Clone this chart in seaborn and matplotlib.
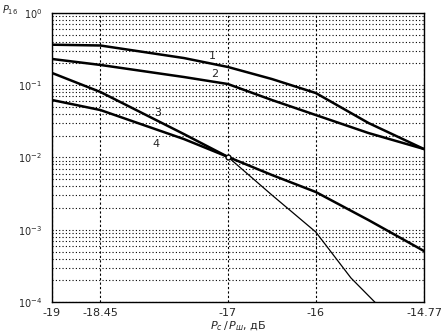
import matplotlib
matplotlib.use("Agg")
import matplotlib.pyplot as plt
import numpy as np
import seaborn as sns
from matplotlib.ticker import LogLocator, NullFormatter

# SNR values, dB
snr = [-19, -18.45, -17.5, -17, -16.5, -16, -15.4, -14.77]
p1 = [0.364, 0.355, 0.238, 0.179, 0.122, 0.078, 0.030, 0.0131]
p2 = [0.231, 0.191, 0.130, 0.104, 0.0625, 0.0387, 0.0218, 0.0131]
p4 = [0.0625, 0.0454, 0.018, 0.0102, 0.00573, 0.00333, 0.00136, 0.000508]

# curve 3 has its own x points (drops off the bottom)
snr3 = [-19, -18.45, -17.5, -17, -16.5, -16, -15.6, -15.33, -15.1]
p3 = [0.148, 0.0807, 0.0211, 0.0102, 0.00303, 0.00093, 0.000215, 0.0001, 0.000053]

xticks = [-19, -18.45, -17, -16, -14.77]
xtick_labels = ["-19", "-18.45", "-17", "-16", "-14.77"]
yticks = [1e0, 1e-1, 1e-2, 1e-3, 1e-4]
ytick_labels = ["$10^{0}$", "$10^{-1}$", "$10^{-2}$", "$10^{-3}$", "$10^{-4}$"]

sns.set_style("white")
plt.rcParams["font.family"] = ["DejaVu Sans"]

fig = plt.figure(figsize=(4.42, 3.34), dpi=100)
ax = fig.add_axes([0.1176, 0.0958, 0.8416, 0.8653])

thick = 1.8
sns.lineplot(x=snr, y=p1, ax=ax, color="black", linewidth=thick)
sns.lineplot(x=snr, y=p2, ax=ax, color="black", linewidth=thick)
sns.lineplot(x=snr, y=p4, ax=ax, color="black", linewidth=thick)
# curve 3: thick until it meets curve 4, thin after that
sns.lineplot(x=snr3[:4], y=p3[:4], ax=ax, color="black", linewidth=thick)
sns.lineplot(x=snr3[3:], y=p3[3:], ax=ax, color="black", linewidth=0.9)
ax.plot([snr[3]], [p4[3]], marker="o", markersize=3.5, color="black",
        markerfacecolor="white", markeredgewidth=1)

ax.set_yscale("log")
ax.set_xlim(-19, -14.77)
ax.set_ylim(1e-4, 1e0)

ax.yaxis.set_minor_locator(LogLocator(base=10, subs=np.arange(2, 10)))
ax.yaxis.set_minor_formatter(NullFormatter())
ax.grid(True, which="both", axis="y", color="black", linestyle=(0, (1, 2)), linewidth=0.8)
ax.grid(True, which="major", axis="x", color="black", linestyle=(0, (2, 2)), linewidth=0.8)

ax.set_xticks(xticks)
ax.set_xticklabels(xtick_labels)
ax.set_yticks(yticks)
ax.set_yticklabels(ytick_labels)
ax.tick_params(axis="both", which="major", labelsize=8, length=3, direction="in", color="black")
ax.tick_params(axis="y", which="major", pad=7, labelsize=7)
ax.tick_params(axis="x", which="major", pad=4)
ax.tick_params(axis="y", which="minor", length=0)
for s in ax.spines.values():
    s.set_color("black")
    s.set_linewidth(1)

ax.set_xlabel("$P_c\\,/\\,P_{ш}$, дБ", fontsize=8, labelpad=1)
ax.set_ylabel("")
fig.text(0.005, 0.96, "$P_{16}$", fontsize=7)

for txt, x, y in [("1", -17.18, 0.25), ("2", -17.15, 0.143), ("3", -17.8, 0.041), ("4", -17.82, 0.0154)]:
    ax.text(x, y, txt, fontsize=8, ha="center", va="center")

fig.savefig("out.png", dpi=100)
